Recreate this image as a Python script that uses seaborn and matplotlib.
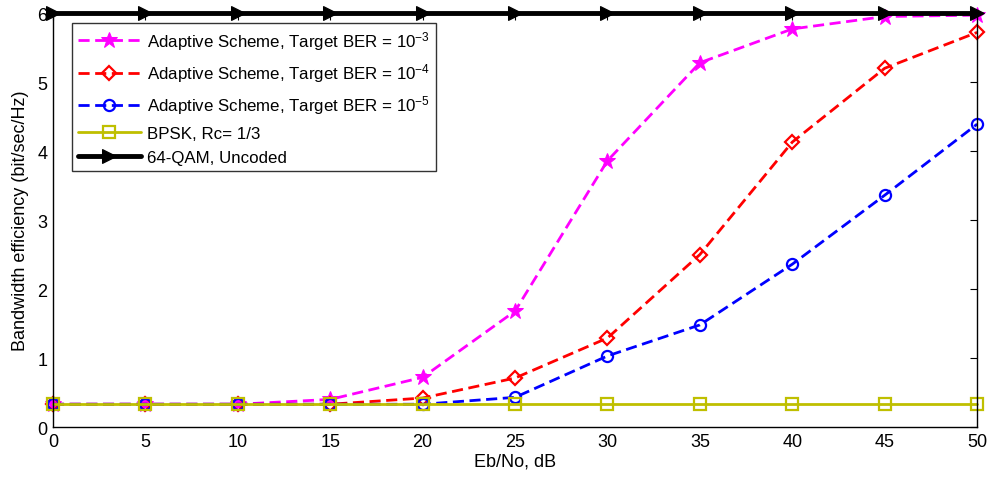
import matplotlib
matplotlib.use("Agg")
import matplotlib.pyplot as plt
import seaborn as sns

sns.set_style("white")
plt.rcParams["font.family"] = ["Liberation Sans", "DejaVu Sans"]
plt.rcParams["mathtext.fontset"] = "custom"
plt.rcParams["mathtext.rm"] = "Liberation Sans"
plt.rcParams["mathtext.it"] = "Liberation Sans"
plt.rcParams["text.color"] = "black"
plt.rcParams["axes.labelcolor"] = "black"
plt.rcParams["xtick.color"] = "black"
plt.rcParams["ytick.color"] = "black"

ebno = [0, 5, 10, 15, 20, 25, 30, 35, 40, 45, 50]
ber_1e3 = [0.33, 0.33, 0.33, 0.40, 0.72, 1.68, 3.86, 5.28, 5.77, 5.95, 5.97]
ber_1e4 = [0.33, 0.33, 0.33, 0.33, 0.42, 0.71, 1.29, 2.50, 4.13, 5.20, 5.72]
ber_1e5 = [0.33, 0.33, 0.33, 0.33, 0.33, 0.43, 1.03, 1.48, 2.36, 3.36, 4.39]
bpsk = [1 / 3] * 11
qam64 = [6] * 11

labels = [
    r"Adaptive Scheme, Target BER = 10$^{-3}$",
    r"Adaptive Scheme, Target BER = 10$^{-4}$",
    r"Adaptive Scheme, Target BER = 10$^{-5}$",
    "BPSK, Rc= 1/3",
    "64-QAM, Uncoded",
]

dash = (0, (4, 2))

fig = plt.figure(figsize=(9.9, 4.85), dpi=100)
ax = fig.add_axes([0.0535, 0.1175, 0.9335, 0.8535])

sns.lineplot(x=ebno, y=ber_1e3, ax=ax, color="#ff00ff", linestyle=dash, lw=2,
             marker="*", markersize=12, markerfacecolor="#ff00ff",
             markeredgecolor="#ff00ff", label=labels[0])
sns.lineplot(x=ebno, y=ber_1e4, ax=ax, color="#ff0000", linestyle=dash, lw=2,
             marker="D", markersize=7, markerfacecolor="none",
             markeredgecolor="#ff0000", markeredgewidth=1.6, label=labels[1])
sns.lineplot(x=ebno, y=ber_1e5, ax=ax, color="#0000ff", linestyle=dash, lw=2,
             marker="o", markersize=8, markerfacecolor="none",
             markeredgecolor="#0000ff", markeredgewidth=1.6, label=labels[2])
sns.lineplot(x=ebno, y=bpsk, ax=ax, color="#bfbf00", linestyle="-", lw=2,
             marker="s", markersize=8, markerfacecolor="none",
             markeredgecolor="#bfbf00", markeredgewidth=1.6, label=labels[3])
sns.lineplot(x=ebno, y=qam64, ax=ax, color="black", linestyle="-", lw=3.5,
             marker=">", markersize=10, markerfacecolor="black",
             markeredgecolor="black", label=labels[4])

for line in ax.get_lines():
    line.set_clip_on(False)

ax.set_xlim(0, 50)
ax.set_ylim(0, 6)
ax.set_xticks(range(0, 51, 5))
ax.set_yticks(range(0, 7))
ax.set_xlabel("Eb/No, dB", fontsize=13, labelpad=2)
ax.set_ylabel("Bandwidth efficiency (bit/sec/Hz)", fontsize=13, labelpad=6)
ax.tick_params(axis="both", direction="in", length=5, width=0.8, labelsize=13,
               top=True, right=True, pad=4)
for s in ax.spines.values():
    s.set_linewidth(1.0)
    s.set_color("black")

leg = ax.legend(loc="upper left", bbox_to_anchor=(0.0206, 0.976), fontsize=12.2,
                frameon=True, fancybox=False, edgecolor="black",
                handlelength=3.7, handletextpad=0.35, borderpad=0.35,
                labelspacing=0.55, borderaxespad=0)
leg.get_frame().set_linewidth(1.0)

fig.savefig("out.png", dpi=100)
